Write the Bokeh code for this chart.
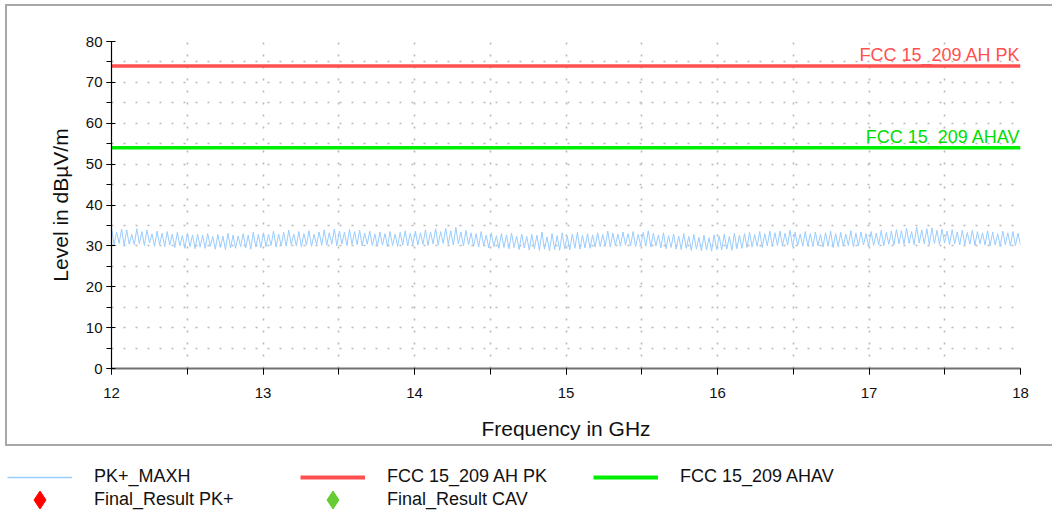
import numpy as np
from bokeh.plotting import figure
from bokeh.models import SingleIntervalTicker, Range1d, Label, Legend, LegendItem
from bokeh.embed import file_html
from bokeh.resources import INLINE

# ---------------- data ----------------
f_start, f_stop = 12.0, 18.0          # GHz
y_min, y_max = 0, 80                  # dBuV/m
limit_pk = 74.0                       # FCC 15_209 AH PK
limit_av = 54.0                       # FCC 15_209 AHAV

# PK+_MAXH trace (dBuV/m), sweep 12 -> 18 GHz
pk_maxh = [
    34.6, 30.2, 33.4, 30.6, 34.1, 30.0, 33.9, 30.4, 32.8, 30.3, 34.2, 30.5,
    33.5, 30.1, 33.9, 30.7, 32.9, 29.9, 33.6, 30.3, 33.1, 29.8, 33.5, 30.2,
    32.9, 29.6, 33.3, 30.0, 32.5, 29.4, 33.1, 29.8, 32.7, 29.3, 32.9, 29.7,
    32.6, 29.4, 33.0, 29.9, 32.3, 29.2, 32.8, 29.6, 32.4, 29.1, 33.1, 29.5,
    32.6, 29.4, 32.4, 29.8, 33.0, 29.5, 32.6, 29.2, 33.4, 29.7, 32.8, 29.6,
    33.2, 29.8, 32.8, 30.1, 33.6, 29.7, 32.9, 30.0, 33.3, 29.9, 33.8, 30.3,
    32.9, 30.0, 33.5, 29.8, 33.0, 30.2, 33.7, 29.9, 32.8, 30.3, 33.4, 30.1,
    33.9, 30.2, 33.2, 30.4, 34.1, 30.0, 33.6, 30.5, 33.3, 30.1, 34.0, 30.4,
    33.5, 30.3, 33.8, 30.0, 33.1, 30.4, 33.6, 30.1, 32.9, 29.9, 33.4, 30.2,
    33.0, 29.8, 33.5, 30.1, 32.8, 29.9, 33.3, 30.2, 33.7, 30.0, 33.1, 30.3,
    33.6, 30.2, 33.2, 30.4, 33.9, 30.1, 33.4, 30.5, 34.2, 30.3, 33.5, 30.6,
    34.3, 30.4, 33.7, 30.2, 34.5, 30.5, 33.4, 30.0, 33.8, 30.3, 33.2, 29.9,
    33.0, 29.7, 33.5, 30.0, 32.6, 29.5, 33.2, 29.8, 32.5, 29.4, 33.0, 29.6,
    32.7, 29.3, 33.1, 29.6, 32.4, 29.1, 32.9, 29.5, 32.3, 29.0, 32.8, 29.3,
    32.6, 28.9, 33.4, 29.2, 32.2, 28.8, 33.0, 29.1, 32.5, 28.9, 33.2, 29.3,
    32.4, 29.0, 32.9, 29.4, 33.3, 29.2, 32.6, 29.5, 33.0, 29.4, 32.7, 29.7,
    33.2, 29.8, 32.8, 30.0, 33.6, 29.7, 33.1, 30.1, 32.9, 29.9, 33.4, 30.2,
    33.0, 30.0, 33.5, 29.8, 32.8, 30.1, 33.3, 29.9, 33.7, 29.7, 33.1, 30.0,
    32.7, 29.5, 33.2, 29.3, 32.5, 29.6, 32.9, 29.2, 32.4, 29.1, 33.0, 29.4,
    32.3, 28.9, 32.8, 29.2, 32.1, 28.8, 32.6, 29.0, 32.0, 28.7, 32.7, 29.1,
    32.4, 29.0, 32.9, 29.2, 32.3, 28.9, 33.1, 29.3, 32.6, 29.4, 33.0, 29.6,
    33.3, 29.7, 32.8, 29.9, 33.5, 29.6, 33.0, 30.0, 33.6, 29.8, 33.2, 30.1,
    33.6, 29.9, 33.1, 30.2, 33.8, 29.8, 33.3, 30.1, 32.9, 29.9, 33.5, 30.0,
    33.0, 29.8, 33.4, 30.0, 32.8, 29.7, 33.2, 29.9, 33.6, 29.6, 33.0, 29.8,
    33.3, 29.9, 32.9, 30.1, 33.7, 29.8, 33.1, 30.0, 33.4, 30.2, 33.0, 29.9,
    33.5, 30.1, 33.1, 30.3, 33.8, 30.0, 33.3, 30.4, 33.6, 30.2, 34.0, 30.5,
    33.7, 30.4, 34.3, 30.6, 33.5, 30.3, 34.6, 30.7, 33.9, 30.5, 34.2, 30.3,
    34.4, 30.6, 33.8, 30.4, 34.1, 30.7, 33.6, 30.3, 34.0, 30.5, 33.4, 30.2,
    33.8, 30.3, 33.3, 30.4, 33.9, 30.1, 33.5, 30.5, 33.2, 30.2, 33.7, 30.0,
    33.4, 30.2, 33.0, 29.9, 33.6, 30.3, 33.2, 30.0, 33.5, 30.1, 33.1, 30.2,
]
freq = np.linspace(f_start, f_stop, len(pk_maxh))

final_pk_f, final_pk_v = [], []       # no final results in view
final_av_f, final_av_v = [], []

# styles
FONT = "Liberation Sans"
C_TRACE, C_PK, C_AV = "#99ccff", "#ff5050", "#00ee00"
C_FPK, C_FAV = "#ff0000", "#66cc33"

# ---------------- main figure ----------------
p = figure(width=1045, height=438, output_backend="svg", toolbar_location=None,
           x_range=Range1d(f_start, f_stop), y_range=Range1d(y_min, y_max),
           min_border_left=104, min_border_right=32, min_border_top=35,
           min_border_bottom=76, margin=(6, 0, 2, 7))
p.styles = {"outline": "2px solid #a8a8a8", "outline-offset": "0px",
            "position": "relative", "z-index": "1"}
p.outline_line_color = None
p.background_fill_color = "white"
p.border_fill_color = "white"

# dotted grids
p.xgrid.ticker = SingleIntervalTicker(interval=0.5)
p.ygrid.ticker = SingleIntervalTicker(interval=5)
for g in (p.xgrid, p.ygrid):
    g.grid_line_color = "#b8b8b8"
    g.grid_line_width = 1.6
    g.grid_line_dash = "2 10"

# axes
xa, ya = p.xaxis[0], p.yaxis[0]
xa.ticker = SingleIntervalTicker(interval=1, num_minor_ticks=2)
ya.ticker = SingleIntervalTicker(interval=10, num_minor_ticks=2)
xa.axis_label = "Frequency in GHz"
ya.axis_label = "Level in dBµV/m"
for a in (xa, ya):
    a.axis_label_text_font = FONT
    a.axis_label_text_font_style = "normal"
    a.axis_label_text_font_size = "21px"
    a.axis_label_text_color = "#111111"
    a.major_label_text_font = FONT
    a.major_label_text_font_size = "15px"
    a.major_label_text_color = "#111111"
    a.major_tick_line_color = "black"
    a.minor_tick_line_color = "black"
xa.axis_line_color = "#707070"
xa.axis_line_width = 2
xa.major_tick_out = 6
xa.major_tick_in = 0
xa.minor_tick_out = 6
xa.minor_tick_in = 0
xa.major_label_standoff = 13
xa.axis_label_standoff = 16
ya.axis_line_color = "black"
ya.axis_line_width = 1.2
ya.major_tick_out = 5
ya.major_tick_in = 4
ya.minor_tick_out = 5
ya.minor_tick_in = 0
ya.major_label_standoff = 4
ya.axis_label_standoff = 11

# data
p.line(freq, pk_maxh, line_color=C_TRACE, line_width=1)
p.line([f_start, f_stop], [limit_pk, limit_pk], line_color=C_PK, line_width=3.5)
p.line([f_start, f_stop], [limit_av, limit_av], line_color=C_AV, line_width=3.5)
p.scatter(final_pk_f, final_pk_v, marker="diamond", color=C_FPK, size=18)
p.scatter(final_av_f, final_av_v, marker="diamond", color=C_FAV, size=18)

p.add_layout(Label(x=f_stop, y=limit_pk, text="FCC 15_209 AH PK",
                   text_align="right", text_baseline="bottom",
                   text_font=FONT, text_font_size="18px", text_color=C_PK,
                   y_offset=1))
p.add_layout(Label(x=f_stop, y=limit_av, text="FCC 15_209 AHAV",
                   text_align="right", text_baseline="bottom",
                   text_font=FONT, text_font_size="18px", text_color="#00dd00",
                   y_offset=1))

# ---------------- legend strip (separate root, no frame alignment) ----------------
lg = figure(width=1052, height=65, output_backend="svg", toolbar_location=None,
            x_range=Range1d(0, 1), y_range=Range1d(0, 1),
            x_axis_type=None, y_axis_type=None, min_border=0,
            min_border_left=0, min_border_right=0, min_border_top=0,
            min_border_bottom=0)
lg.outline_line_color = None
lg.grid.visible = False
nan = [float("nan")]
l_trace = lg.line(nan, nan, line_color=C_TRACE, line_width=1.3)
l_pk = lg.line(nan, nan, line_color=C_PK, line_width=4)
l_av = lg.line(nan, nan, line_color=C_AV, line_width=4)
l_fpk = lg.scatter(nan, nan, marker="diamond", color=C_FPK)
l_fav = lg.scatter(nan, nan, marker="diamond", color=C_FAV)

leg_common = dict(orientation="horizontal", padding=0, margin=0, spacing=0,
                  glyph_width=65, label_standoff=22, label_width=206,
                  label_height=20, label_text_font=FONT,
                  label_text_font_size="18px", label_text_color="#111111",
                  background_fill_alpha=0, border_line_color=None)
leg1 = Legend(items=[LegendItem(label="PK+_MAXH", renderers=[l_trace]),
                     LegendItem(label="FCC 15_209 AH PK", renderers=[l_pk]),
                     LegendItem(label="FCC 15_209 AHAV", renderers=[l_av])],
              glyph_height=20, location=(7, 24), **leg_common)
leg2 = Legend(items=[LegendItem(label="Final_Result PK+", renderers=[l_fpk]),
                     LegendItem(label="Final_Result CAV", renderers=[l_fav])],
              glyph_height=45, location=(7, -11), **leg_common)
lg.add_layout(leg1)
lg.add_layout(leg2)

open("out.html", "w").write(file_html([p, lg], INLINE))
